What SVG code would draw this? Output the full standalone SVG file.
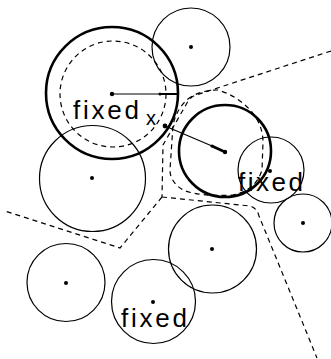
<svg xmlns="http://www.w3.org/2000/svg" width="331" height="359" viewBox="0 0 331 359">
<style>
.thin{fill:none;stroke:#000;stroke-width:1.2}
.thick{fill:none;stroke:#000;stroke-width:2.6}
.dash{fill:none;stroke:#000;stroke-width:1.2;stroke-dasharray:5 4}
.dot{fill:#000}
.lbl{font-family:"Liberation Sans",Arial,sans-serif;font-size:26px;fill:#000}
.sm{font-family:"Liberation Sans",Arial,sans-serif;font-size:20px;fill:#000}
</style>
<rect width="331" height="359" fill="#fff"/>
<g id="connectors">
<path class="dash" d="M331,51 L196,95 Q190,97 187,103 L163,145 L162,197"/>
<path class="dash" d="M162,197 L120,248 L5,211"/>
<path class="dash" d="M162,197 L250,206 Q257,208 259,216 L317,358"/>
<path class="dash" d="M188,99 Q200,90 218,90 Q238,96 252,112 Q263,126 263,142 L262,170 Q256,190 233,195 Q200,197 183,190 Q170,182 170,170 L173,125 Q177,108 188,99"/>
<circle class="dash" cx="113" cy="94" r="53"/>
<line class="thin" x1="112" y1="94" x2="160" y2="94"/>
<line class="thin" x1="160" y1="94" x2="178" y2="94" style="stroke-width:2"/>
<line class="thin" x1="165" y1="126" x2="212" y2="146"/>
<line class="thick" x1="212" y1="146" x2="225" y2="152"/>
</g>
<g id="c1">
<circle class="thick" cx="112" cy="93" r="66"/>
<circle class="dot" cx="112" cy="94" r="2.2"/>
<circle class="dot" cx="160" cy="94" r="1.5"/>
<text class="lbl" x="73" y="119" textLength="66" lengthAdjust="spacing">fixed</text>
<text class="sm" x="146" y="125">x</text>
</g>
<g id="c2">
<circle class="thick" cx="225" cy="151" r="46"/>
<circle class="dot" cx="225" cy="152" r="2.2"/>
<circle class="dot" cx="212" cy="146" r="1.6"/>
<circle class="dot" cx="165" cy="126" r="2.4"/>
</g>
<g id="c3">
<circle class="thin" cx="191" cy="47" r="39"/>
<circle class="dot" cx="191" cy="47" r="2"/>
</g>
<g id="c4">
<circle class="thin" cx="271" cy="170" r="33"/>
<circle class="dot" cx="270" cy="171" r="2"/>
<text class="lbl" x="238" y="191" textLength="65" lengthAdjust="spacing">fixed</text>
</g>
<g id="c5">
<circle class="thin" cx="303" cy="223" r="29"/>
<circle class="dot" cx="303" cy="223" r="2"/>
</g>
<g id="c6">
<circle class="thin" cx="92.5" cy="178.5" r="53"/>
<circle class="dot" cx="92" cy="178" r="2"/>
</g>
<g id="c7">
<circle class="thin" cx="212.5" cy="249" r="44"/>
<circle class="dot" cx="212" cy="249" r="2"/>
</g>
<g id="c8">
<circle class="thin" cx="66" cy="282.5" r="39"/>
<circle class="dot" cx="66" cy="283" r="2"/>
</g>
<g id="c9">
<circle class="thin" cx="153.5" cy="301.5" r="42"/>
<circle class="dot" cx="153" cy="302" r="2"/>
<text class="lbl" x="121" y="327" textLength="66" lengthAdjust="spacing">fixed</text>
</g>
</svg>
